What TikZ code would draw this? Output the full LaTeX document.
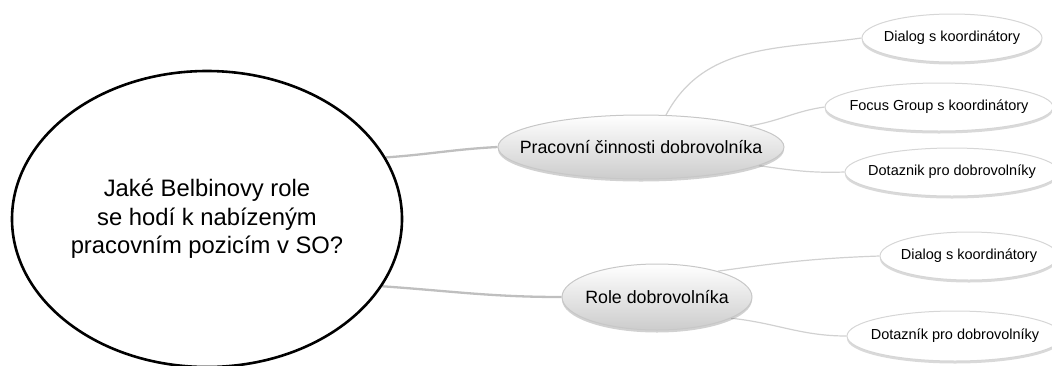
\documentclass[tikz,border=0pt]{standalone}
\usepackage{fontspec}
\setmainfont{Liberation Sans}
\usetikzlibrary{shapes.geometric,shadows,backgrounds}
\tikzset{
  mainq/.style={ellipse, draw=black, line width=2.6pt, fill=white, inner sep=0pt,
    minimum width=390pt, minimum height=296pt, align=center,
    font=\fontsize{23.8}{28.5}\selectfont},
  midnode/.style={ellipse, draw=black!22, line width=1pt, inner sep=0pt,
    top color=white, bottom color=black!20,
    drop shadow={shadow xshift=0pt, shadow yshift=-2.5pt, opacity=0.18, fill=black},
    label={[font=\fontsize{17.8}{20}\selectfont, text=black]center:#1}},
  leafnode/.style={ellipse, draw=black!16, line width=1pt, fill=white, inner sep=0pt,
    drop shadow={shadow xshift=0pt, shadow yshift=-2.5pt, opacity=0.15, fill=black},
    label={[font=\fontsize{14.5}{17}\selectfont, text=black]center:#1}},
  mainlink/.style={draw=black!25, line width=2.3pt},
  sublink/.style={draw=black!18, line width=1.2pt}
}
\begin{document}
\begin{tikzpicture}[x=1pt,y=-1pt]
\useasboundingbox (0,0) rectangle (1052,365);
\node[mainq] (q) at (207,219) {Jaké Belbinovy role\\se hodí k nabízeným\\pracovním pozicím v SO?};
\node[midnode={Pracovní činnosti dobrovolníka}, minimum width=286pt, minimum height=64pt] (prac) at (641,147) {};
\node[midnode={Role dobrovolníka}, minimum width=190pt, minimum height=66pt] (role) at (657,297) {};
\node[leafnode={Dialog s koordinátory}, minimum width=180pt, minimum height=48pt] (d1) at (952,38) {};
\node[leafnode={Focus Group s koordinátory}, minimum width=228pt, minimum height=48pt] (fg) at (939,107) {};
\node[leafnode={Dotaznik pro dobrovolníky}, minimum width=214pt, minimum height=48pt] (dz1) at (952,172) {};
\node[leafnode={Dialog s koordinátory}, minimum width=178pt, minimum height=48pt] (d2) at (969,256) {};
\node[leafnode={Dotazník pro dobrovolníky}, minimum width=216pt, minimum height=50pt] (dz2) at (955,336) {};
\begin{scope}[on background layer]
\draw[mainlink] (q.19) to[out=4,in=183] (prac.west);
\draw[mainlink] (q.-21) to[out=-4,in=180] (role.west);
\draw[sublink] (prac.52) to[out=62,in=188] (d1.west);
\draw[sublink] (prac.11) to[out=9,in=188] (fg.west);
\draw[sublink] (prac.-9) to[out=-8,in=182] (dz1.west);
\draw[sublink] (role.23) to[out=8,in=182] (d2.west);
\draw[sublink] (role.-16) to[out=-6,in=180] (dz2.west);
\end{scope}
\end{tikzpicture}
\end{document}
